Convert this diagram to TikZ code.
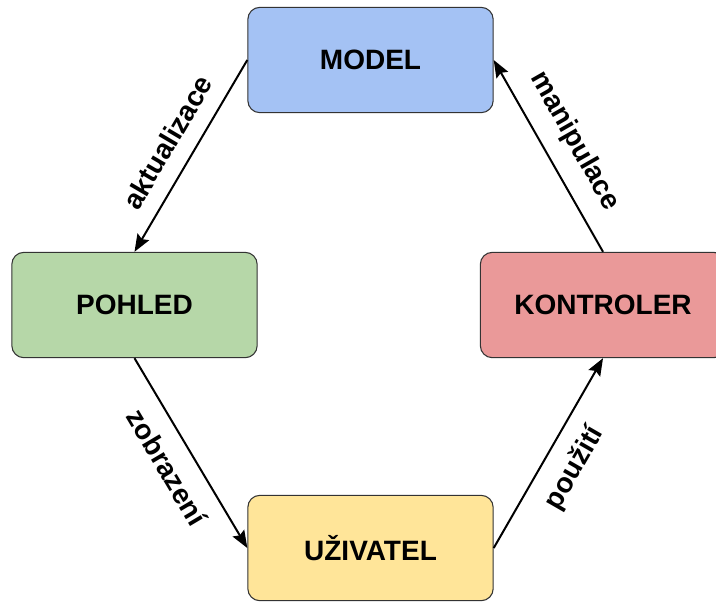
\documentclass[tikz,border=0pt]{standalone}
\usepackage{fontspec}
\setmainfont{Liberation Sans}
\usetikzlibrary{arrows.meta}

\definecolor{modelblue}{HTML}{A4C2F4}
\definecolor{viewgreen}{HTML}{B6D7A8}
\definecolor{ctrlred}{HTML}{EA9999}
\definecolor{useryellow}{HTML}{FFE599}

\begin{document}
\begin{tikzpicture}[x=0.75pt,y=-0.75pt,
  box/.style={draw=black!80, line width=0.8pt, rounded corners=9pt,
    minimum width=184pt, minimum height=79pt,
    font=\fontsize{21}{25}\selectfont\bfseries},
  lbl/.style={sloped, midway, inner sep=2pt, font=\fontsize{21}{25}\selectfont\bfseries},
  every edge/.style={draw, line width=1.5pt,
    -{Stealth[length=13pt,width=10pt,inset=2pt]}}]
\useasboundingbox (0,0) rectangle (716,601);
\node[box, fill=modelblue] (model) at (370.5,60) {MODEL};
\node[box, fill=viewgreen] (pohled) at (134.5,305) {POHLED};
\node[box, fill=ctrlred] (kontroler) at (603,305) {KONTROLER};
\node[box, fill=useryellow] (uzivatel) at (370.5,548) {UŽIVATEL};
\draw (model.west) edge node[lbl, above=10pt] {aktualizace} (pohled.north);
\draw (pohled.south) edge node[lbl, below=10pt] {zobrazení} (uzivatel.west);
\draw (uzivatel.east) edge node[lbl, below=10pt] {použití} (kontroler.south);
\draw (kontroler.north) edge node[lbl, above=10pt] {manipulace} (model.east);
\end{tikzpicture}
\end{document}
